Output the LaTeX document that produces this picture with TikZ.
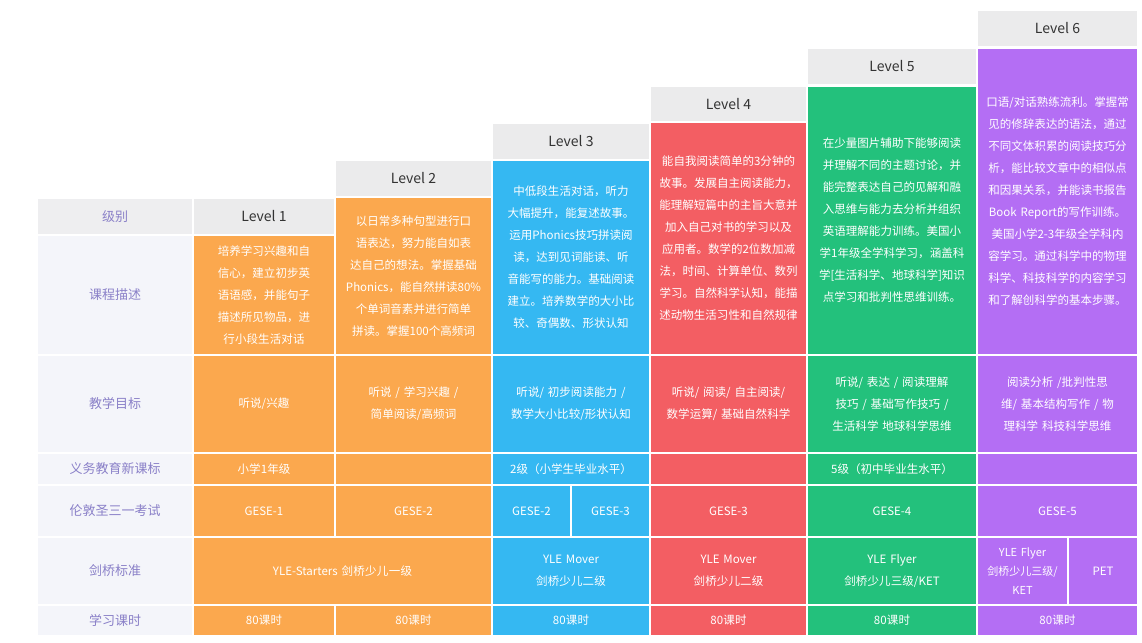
\documentclass[tikz,border=0pt]{standalone}
\usepackage{fontspec}
\setmainfont{Noto Sans CJK SC}
\XeTeXlinebreaklocale "zh"
\XeTeXlinebreakskip=0pt plus 0.1pt
\definecolor{cor}{HTML}{FBA84E}
\definecolor{cbl}{HTML}{35B8F2}
\definecolor{cre}{HTML}{F35E63}
\definecolor{cgr}{HTML}{23C17C}
\definecolor{cpu}{HTML}{B46EF4}
\definecolor{chd}{HTML}{EBEBEC}
\definecolor{clf}{HTML}{F4F5FA}
\definecolor{clt}{HTML}{8A80C8}
\begin{document}
\begin{tikzpicture}[x=1pt,y=-1pt,
  cellbox/.style={draw=white,line width=1.4pt},
  txt/.style={text=white,align=center,inner sep=0pt,font=\fontsize{11.5}{22}\selectfont},
  hd/.style={text=black!80,font=\fontsize{14}{16}\selectfont},
  lb/.style={text=clt,font=\fontsize{13}{15}\selectfont}]
\useasboundingbox (0,0) rectangle (1142,642);
\fill[white] (0,0) rectangle (1142,642);
\newcommand\cellA[7]{\path[cellbox,fill=#6] (#2,#3) rectangle node[txt,text width={(#4-#2-18)*1pt}] (#1) {#7} (#4,#5);}
\newcommand\head[5]{\path[cellbox,fill=chd] (#2,#3) rectangle node[hd] (#1) {#5} (#4,#3+37);}
% left column
\fill[clf] (37,198) rectangle (193,636);
\path[cellbox,fill=chd!70!clf] (37,198) rectangle node[lb] (l0) {级别} (193,235);
\path[cellbox] (37,235) rectangle node[lb] (l1) {课程描述} (193,355);
\path[cellbox] (37,355) rectangle node[lb] (l2) {教学目标} (193,453);
\path[cellbox] (37,453) rectangle node[lb] (l3) {义务教育新课标} (193,485);
\path[cellbox] (37,485) rectangle node[lb] (l4) {伦敦圣三一考试} (193,537);
\path[cellbox] (37,537) rectangle node[lb] (l5) {剑桥标准} (193,605);
\path[cellbox] (37,605) rectangle node[lb] (l6) {学习课时} (193,636);
% headers
\head{h1}{193}{198}{335}{Level 1}
\head{h2}{335}{160}{492}{Level 2}
\head{h3}{492}{123}{650}{Level 3}
\head{h4}{650}{86}{807}{Level 4}
\head{h5}{807}{48}{977}{Level 5}
\head{h6}{977}{10}{1138}{Level 6}
% descriptions
\cellA{d1}{193}{235}{335}{355}{cor}{培养学习兴趣和自信心，建立初步英语语感，并能句子描述所见物品，进行小段生活对话}
\cellA{d2}{335}{197}{492}{355}{cor}{以日常多种句型进行口语表达，努力能自如表达自己的想法。掌握基础Phonics，能自然拼读80\%个单词音素并进行简单拼读。掌握100个高频词}
\cellA{d3}{492}{160}{650}{355}{cbl}{中低段生活对话，听力大幅提升，能复述故事。运用Phonics技巧拼读阅读，达到见词能读、听音能写的能力。基础阅读建立。培养数学的大小比较、奇偶数、形状认知}
\cellA{d4}{650}{122}{807}{355}{cre}{能自我阅读简单的3分钟的故事。发展自主阅读能力，能理解短篇中的主旨大意并加入自己对书的学习以及应用者。数学的2位数加减法，时间、计算单位、数列学习。自然科学认知，能描述动物生活习性和自然规律}
\cellA{d5}{807}{86}{977}{355}{cgr}{在少量图片辅助下能够阅读并理解不同的主题讨论，并能完整表达自己的见解和融入思维与能力去分析并组织英语理解能力训练。美国小学1年级全学科学习，涵盖科学[生活科学、地球科学]知识点学习和批判性思维训练。}
\cellA{d6}{977}{48}{1138}{355}{cpu}{口语/对话熟练流利。掌握常见的修辞表达的语法，通过不同文体积累的阅读技巧分析，能比较文章中的相似点和因果关系，并能读书报告Book Report的写作训练。美国小学2-3年级全学科内容学习。通过科学中的物理科学、科技科学的内容学习和了解创科学的基本步骤。}
% goals
\cellA{g1}{193}{355}{335}{453}{cor}{听说/兴趣}
\cellA{g2}{335}{355}{492}{453}{cor}{听说 / 学习兴趣 / 简单阅读/高频词}
\cellA{g3}{492}{355}{650}{453}{cbl}{听说/ 初步阅读能力 / 数学大小比较/形状认知}
\cellA{g4}{650}{355}{807}{453}{cre}{听说/ 阅读/ 自主阅读/ 数学运算/ 基础自然科学}
\cellA{g5}{807}{355}{977}{453}{cgr}{听说/ 表达 / 阅读理解技巧 / 基础写作技巧 / 生活科学 地球科学思维}
\cellA{g6}{977}{355}{1138}{453}{cpu}{阅读分析 /批判性思维/ 基本结构写作 / 物理科学 科技科学思维}
% curriculum standard
\cellA{s1}{193}{453}{335}{485}{cor}{小学1年级}
\cellA{s2}{335}{453}{492}{485}{cor}{}
\cellA{s3}{492}{453}{650}{485}{cbl}{2级（小学生毕业水平）}
\cellA{s4}{650}{453}{807}{485}{cre}{}
\cellA{s5}{807}{453}{977}{485}{cgr}{5级（初中毕业生水平）}
\cellA{s6}{977}{453}{1138}{485}{cpu}{}
% GESE
\cellA{e1}{193}{485}{335}{537}{cor}{GESE-1}
\cellA{e2}{335}{485}{492}{537}{cor}{GESE-2}
\cellA{e3a}{492}{485}{571}{537}{cbl}{GESE-2}
\cellA{e3b}{571}{485}{650}{537}{cbl}{GESE-3}
\cellA{e4}{650}{485}{807}{537}{cre}{GESE-3}
\cellA{e5}{807}{485}{977}{537}{cgr}{GESE-4}
\cellA{e6}{977}{485}{1138}{537}{cpu}{GESE-5}
% Cambridge
\cellA{c12}{193}{537}{492}{605}{cor}{YLE-Starters 剑桥少儿一级}
\cellA{c3}{492}{537}{650}{605}{cbl}{YLE Mover\\剑桥少儿二级}
\cellA{c4}{650}{537}{807}{605}{cre}{YLE Mover\\剑桥少儿二级}
\cellA{c5}{807}{537}{977}{605}{cgr}{YLE Flyer\\剑桥少儿三级/KET}
\path[cellbox,fill=cpu] (977,537) rectangle node[txt,text width=88pt,font=\fontsize{11}{19}\selectfont] (c6a) {YLE Flyer\\剑桥少儿三级/\\KET} (1068,605);
\cellA{c6b}{1068}{537}{1138}{605}{cpu}{PET}
% hours
\cellA{t1}{193}{605}{335}{636}{cor}{80课时}
\cellA{t2}{335}{605}{492}{636}{cor}{80课时}
\cellA{t3}{492}{605}{650}{636}{cbl}{80课时}
\cellA{t4}{650}{605}{807}{636}{cre}{80课时}
\cellA{t5}{807}{605}{977}{636}{cgr}{80课时}
\cellA{t6}{977}{605}{1138}{636}{cpu}{80课时}
\end{tikzpicture}
\end{document}
